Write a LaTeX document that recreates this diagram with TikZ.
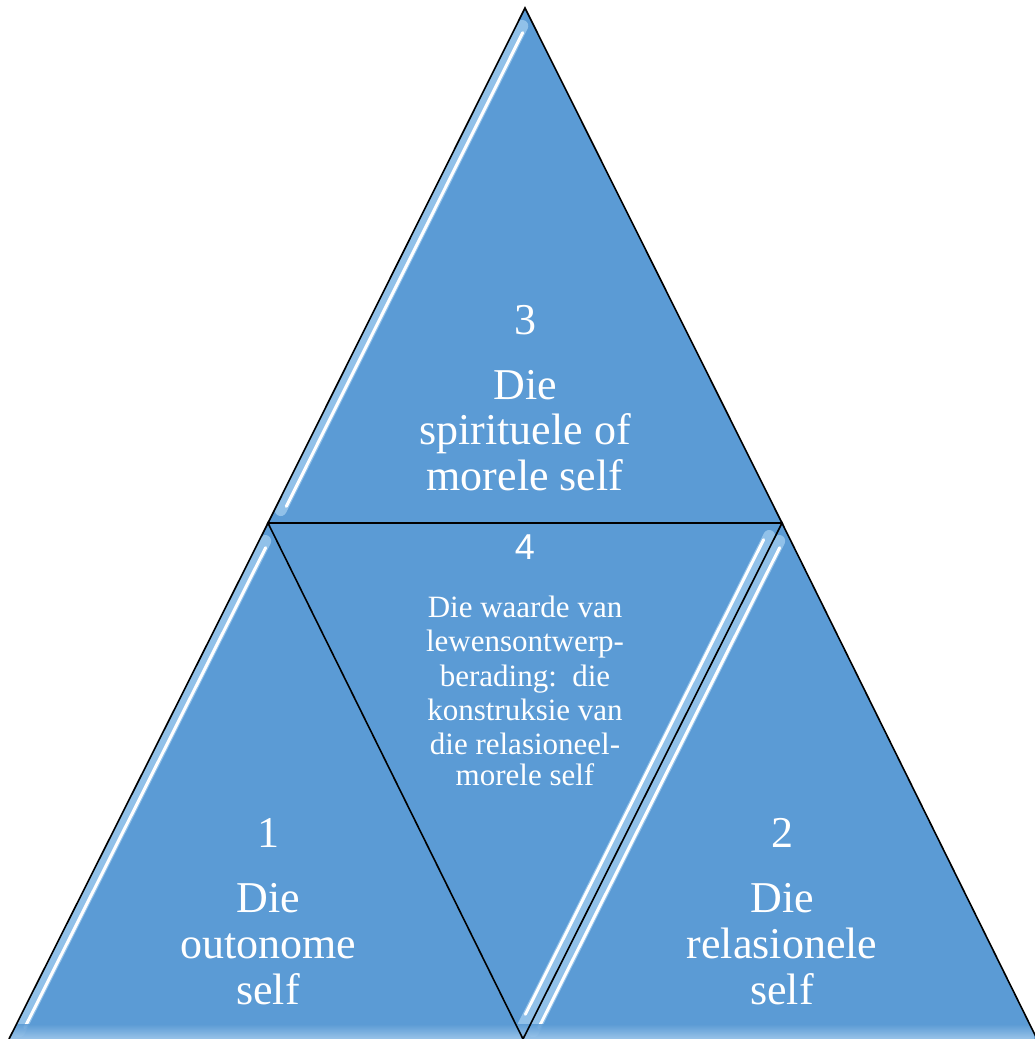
\documentclass[tikz,border=0pt]{standalone}
\usepackage{fontspec}
\setmainfont{Liberation Serif}
\newfontfamily\digitsans{Liberation Sans}
\usetikzlibrary{calc}
\definecolor{triblue}{RGB}{91,155,213}
\definecolor{triedge}{RGB}{160,200,235}
\definecolor{glowblue}{RGB}{190,225,250}
\tikzset{
  tri/.style={fill=triblue, draw=none},
  triline/.style={draw=black, line width=1.6pt, line join=miter},
  glow/.style={draw=glowblue, line width=12pt, opacity=0.55, line cap=round},
  shine/.style={draw=white, line width=3pt, line cap=round},
  big/.style={text=white, font=\fontsize{44}{46}\selectfont, anchor=base, inner sep=0pt},
  small/.style={text=white, font=\fontsize{31}{34}\selectfont, anchor=base, inner sep=0pt},
  num/.style={text=white, font=\fontsize{44}{46}\selectfont, anchor=base, inner sep=0pt},
  numsans/.style={text=white, font=\digitsans\fontsize{36}{40}\selectfont, anchor=base, inner sep=0pt},
}
\begin{document}
\begin{tikzpicture}[x=1pt,y=-1pt]
\useasboundingbox (0,0) rectangle (1034,1039);
% corner coordinates
\coordinate (T) at (525,8);
\coordinate (ML) at (268,523);
\coordinate (MR) at (782,523);
\coordinate (BL) at (9,1039);
\coordinate (BM) at (523,1039);
\coordinate (BR) at (1037,1039);
% fills
\fill[tri] (T) -- (ML) -- (MR) -- cycle;
\fill[tri] (ML) -- (BL) -- (BM) -- cycle;
\fill[tri] (ML) -- (MR) -- (BM) -- cycle;
\fill[tri] (MR) -- (BM) -- (BR) -- cycle;
% shine strokes (clipped to each triangle)
\begin{scope}
\clip (T) -- (ML) -- (MR) -- cycle;
\draw[glow] ($(T)!0.03!(ML)+(5,2.5)$) -- ($(T)!0.97!(ML)+(5,2.5)$);
\draw[shine] ($(T)!0.04!(ML)+(8,4)$) -- ($(T)!0.96!(ML)+(8,4)$);
\end{scope}
\begin{scope}
\clip (ML) -- (BL) -- (BM) -- cycle;
\draw[glow] ($(ML)!0.03!(BL)+(5,2.5)$) -- ($(ML)!0.98!(BL)+(5,2.5)$);
\draw[shine] ($(ML)!0.04!(BL)+(8,4)$) -- ($(ML)!0.97!(BL)+(8,4)$);
\end{scope}
\begin{scope}
\clip (ML) -- (MR) -- (BM) -- cycle;
\draw[glow] ($(MR)!0.03!(BM)+(-5,-2.5)$) -- ($(MR)!0.98!(BM)+(-5,-2.5)$);
\draw[shine] ($(MR)!0.04!(BM)+(-8,-4)$) -- ($(MR)!0.96!(BM)+(-8,-4)$);
\end{scope}
\begin{scope}
\clip (MR) -- (BM) -- (BR) -- cycle;
\draw[glow] ($(MR)!0.03!(BM)+(5,2.5)$) -- ($(MR)!0.98!(BM)+(5,2.5)$);
\draw[shine] ($(MR)!0.04!(BM)+(8,4)$) -- ($(MR)!0.97!(BM)+(8,4)$);
\end{scope}
% lighter band at the bottom
\begin{scope}
\clip (ML) -- (BL) -- (BR) -- (MR) -- cycle;
\shade[top color=triblue, bottom color=triedge, opacity=0.9] (0,1024) rectangle (1034,1039);
\end{scope}
% outlines
\draw[triline] (ML) -- (T) -- (MR) -- cycle;
\draw[triline] (BL) -- (ML) -- (BM) -- (MR) -- (BR);
% top triangle text
\node[num] (n3) at (525,334) {3};
\node[big] (t1) at (525,399) {Die};
\node[big] (t2) at (525,444) {spirituele of};
\node[big] (t3) at (525,490) {morele self};
% left triangle text
\node[num] (n1) at (268,847) {1};
\node[big] (l1) at (268,912) {Die};
\node[big] (l2) at (268,958) {outonome};
\node[big] (l3) at (268,1004) {self};
% right triangle text
\node[num] (n2) at (782,847) {2};
\node[big] (r1) at (782,912) {Die};
\node[big] (r2) at (782,958) {relasionele};
\node[big] (r3) at (782,1004) {self};
% middle triangle text
\node[numsans] (n4) at (525,559) {4};
\node[small] (m1) at (525,617) {Die waarde van};
\node[small] (m2) at (525,651) {lewensontwerp-};
\node[small] (m3) at (525,686) {berading:\ \ die};
\node[small] (m4) at (525,720) {konstruksie van};
\node[small] (m5) at (525,754) {die relasioneel-};
\node[small] (m6) at (525,785) {morele self};
\end{tikzpicture}
\end{document}
